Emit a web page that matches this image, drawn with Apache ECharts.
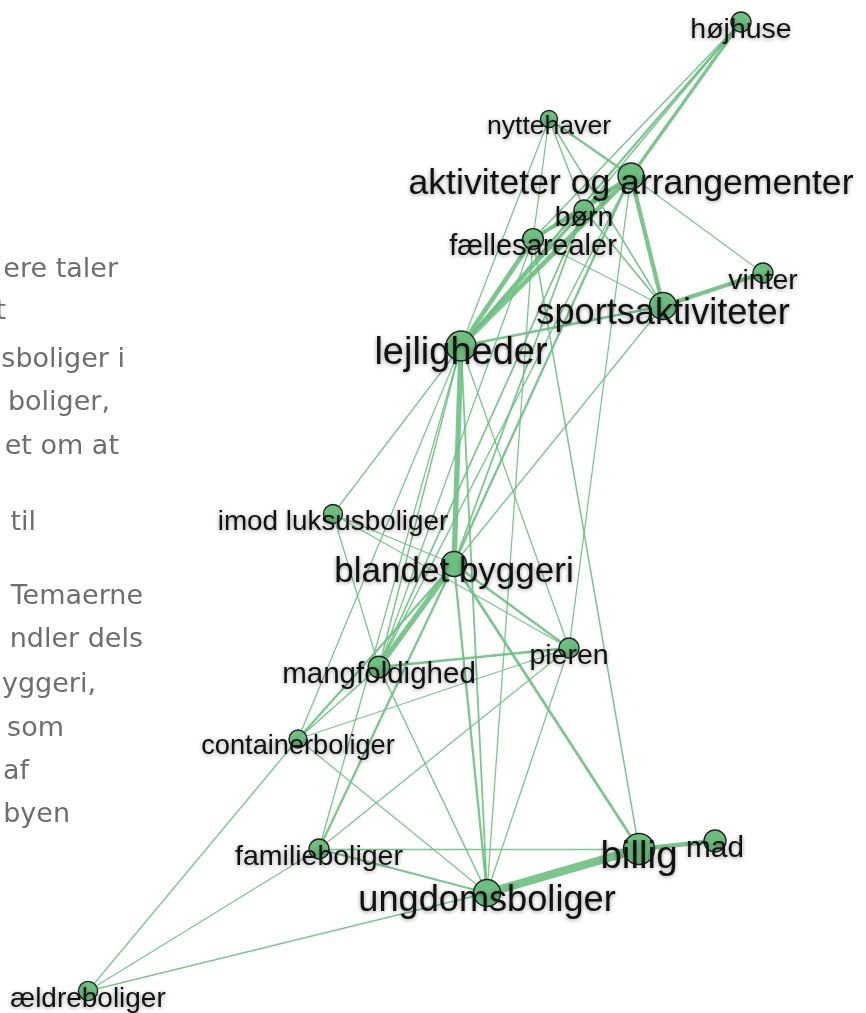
<!DOCTYPE html>
<html>
<head>
<meta charset="utf-8">
<script src="https://cdn.jsdelivr.net/npm/echarts@6/dist/echarts.min.js"></script>
<style>
  html, body { margin: 0; padding: 0; background: #fff; }
  #chart { width: 866px; height: 1013px; }
</style>
</head>
<body>
<div id="chart"></div>
<script>
// theme nodes (layout coordinates from the network layout)
const nodeNames = ['højhuse', 'nyttehaver', 'aktiviteter og arrangementer', 'børn', 'fællesarealer',
  'vinter', 'sportsaktiviteter', 'lejligheder', 'imod luksusboliger', 'blandet byggeri', 'pieren',
  'mangfoldighed', 'containerboliger', 'familieboliger', 'billig', 'mad', 'ungdomsboliger', 'ældreboliger']
const nodeX = [741, 549, 631, 584, 533, 763, 663, 461, 333, 454, 569, 379, 298, 319, 639, 715, 487, 88]
const nodeY = [22, 119, 176, 210, 239, 273, 306, 346, 514, 564, 648, 667, 739, 849, 849, 841, 893, 991]
const nodeValue = [5, 3.5, 8, 5, 5.4, 5, 8.5, 10, 4.5, 7.5, 5, 5.8, 4, 5, 10.5, 6, 8.5, 4.6]

// co-occurrence links: [source, target, weight]
const links = [
  ['højhuse', 'aktiviteter og arrangementer', 3],
  ['højhuse', 'lejligheder', 2],
  ['højhuse', 'fællesarealer', 1.2],
  ['højhuse', 'børn', 1.2],
  ['nyttehaver', 'aktiviteter og arrangementer', 2],
  ['nyttehaver', 'børn', 1.2],
  ['nyttehaver', 'sportsaktiviteter', 1.2],
  ['nyttehaver', 'fællesarealer', 1],
  ['nyttehaver', 'lejligheder', 1],
  ['aktiviteter og arrangementer', 'børn', 2],
  ['aktiviteter og arrangementer', 'fællesarealer', 3],
  ['aktiviteter og arrangementer', 'lejligheder', 4.5],
  ['aktiviteter og arrangementer', 'sportsaktiviteter', 4],
  ['aktiviteter og arrangementer', 'vinter', 1],
  ['aktiviteter og arrangementer', 'blandet byggeri', 2],
  ['aktiviteter og arrangementer', 'pieren', 1],
  ['aktiviteter og arrangementer', 'mangfoldighed', 1.2],
  ['børn', 'fællesarealer', 2],
  ['børn', 'lejligheder', 3],
  ['børn', 'sportsaktiviteter', 1.5],
  ['børn', 'blandet byggeri', 1.5],
  ['børn', 'mangfoldighed', 1.5],
  ['fællesarealer', 'lejligheder', 4.5],
  ['fællesarealer', 'sportsaktiviteter', 1],
  ['fællesarealer', 'billig', 1.2],
  ['fællesarealer', 'ungdomsboliger', 1],
  ['fællesarealer', 'mangfoldighed', 1],
  ['vinter', 'sportsaktiviteter', 4],
  ['sportsaktiviteter', 'lejligheder', 2],
  ['sportsaktiviteter', 'blandet byggeri', 1],
  ['lejligheder', 'blandet byggeri', 5],
  ['lejligheder', 'imod luksusboliger', 1],
  ['lejligheder', 'containerboliger', 1],
  ['lejligheder', 'mangfoldighed', 1.2],
  ['lejligheder', 'ungdomsboliger', 1.5],
  ['lejligheder', 'pieren', 1],
  ['lejligheder', 'familieboliger', 1],
  ['imod luksusboliger', 'blandet byggeri', 1],
  ['imod luksusboliger', 'pieren', 1],
  ['imod luksusboliger', 'mangfoldighed', 1],
  ['blandet byggeri', 'mangfoldighed', 5],
  ['blandet byggeri', 'containerboliger', 2],
  ['blandet byggeri', 'familieboliger', 2],
  ['blandet byggeri', 'ungdomsboliger', 2],
  ['blandet byggeri', 'billig', 2.5],
  ['blandet byggeri', 'pieren', 2],
  ['pieren', 'mangfoldighed', 2],
  ['pieren', 'containerboliger', 1],
  ['pieren', 'familieboliger', 1],
  ['pieren', 'ungdomsboliger', 1],
  ['mangfoldighed', 'containerboliger', 1.2],
  ['mangfoldighed', 'ungdomsboliger', 1.2],
  ['containerboliger', 'ungdomsboliger', 1],
  ['containerboliger', 'ældreboliger', 1],
  ['familieboliger', 'ungdomsboliger', 2],
  ['familieboliger', 'billig', 1],
  ['familieboliger', 'ældreboliger', 1],
  ['ungdomsboliger', 'billig', 8],
  ['ungdomsboliger', 'ældreboliger', 1],
  ['billig', 'mad', 4]
]

// cut-off paragraph on the left side of the page
const sideLines = ['ere taler', 't', 'sboliger i', 'boliger,', 'et om at', 'til', 'Temaerne',
  'ndler dels', 'yggeri,', 'som', 'af', 'byen']
const sideRight = [118, 6, 125, 110, 119, 36, 143, 143, 96, 64, 29, 70]
const sideY = [270, 312, 360, 403, 447, 523, 597, 640, 685, 729, 772, 815]

const green = '#6cc07f'
const chart = echarts.init(document.getElementById('chart'))

const nodes = nodeNames.map((name, i) => {
  const v = nodeValue[i]
  return {
    name: name,
    x: nodeX[i],
    y: nodeY[i],
    value: v,
    symbolSize: 10 + v * 2,
    label: { fontSize: v >= 7 ? 26 + v * 1.2 : 22 + v * 1.3 }
  }
})

const minX = Math.min(...nodeX), maxX = Math.max(...nodeX)
const minY = Math.min(...nodeY), maxY = Math.max(...nodeY)

chart.setOption({
  backgroundColor: '#fff',
  animation: false,
  graphic: sideLines.map((t, i) => ({
    type: 'text',
    x: sideRight[i],
    y: sideY[i],
    style: {
      text: t,
      fill: '#6e6e6e',
      font: '27px "DejaVu Sans"',
      align: 'right',
      verticalAlign: 'middle'
    }
  })),
  series: [{
    type: 'graph',
    layout: 'none',
    left: minX,
    top: minY,
    width: maxX - minX,
    height: maxY - minY,
    roam: false,
    data: nodes,
    links: links.map(l => ({
      source: l[0],
      target: l[1],
      value: l[2],
      lineStyle: { width: l[2] + 0.3 }
    })),
    itemStyle: {
      color: green,
      borderColor: '#222',
      borderWidth: 1.4
    },
    lineStyle: {
      color: green,
      opacity: 0.9,
      curveness: 0
    },
    label: {
      show: true,
      position: 'inside',
      offset: [0, 8],
      color: '#111',
      fontFamily: '"Liberation Sans", Arial, sans-serif',
      textShadowColor: 'rgba(0,0,0,0.4)',
      textShadowBlur: 4,
      textShadowOffsetY: 1
    },
    emphasis: { disabled: true }
  }]
})
</script>
</body>
</html>
